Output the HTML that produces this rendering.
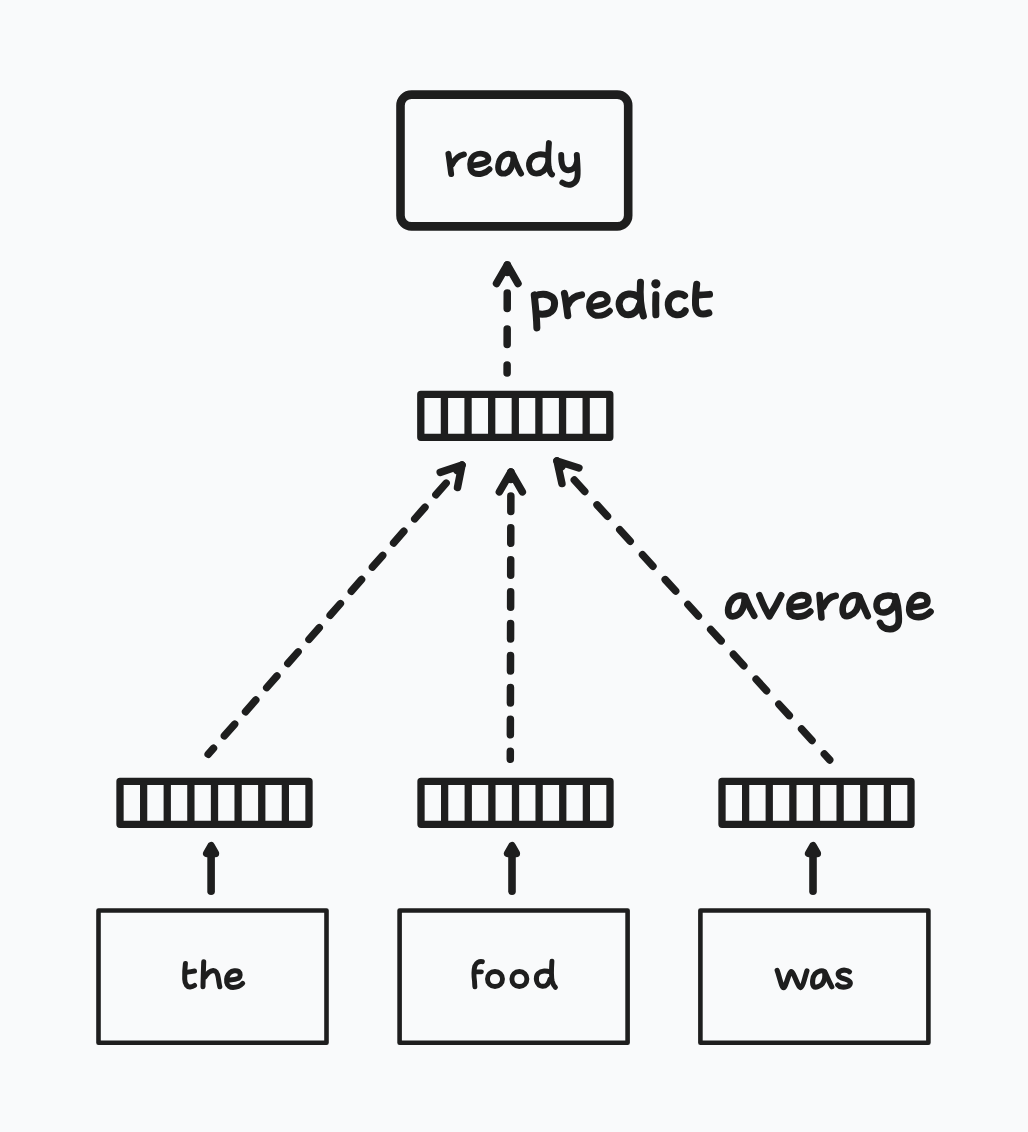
<!DOCTYPE html>
<html><head><meta charset="utf-8"><style>
html,body{margin:0;padding:0;background:#f9fafb;}
body{width:1028px;height:1132px;overflow:hidden;font-family:"Liberation Sans",sans-serif;}
svg{display:block;}
</style></head><body>
<svg width="1028" height="1132" viewBox="0 0 1028 1132">
<rect width="1028" height="1132" fill="#f9fafb"/>
<rect x="400.5" y="94.6" width="227.7" height="131.8" rx="11" ry="11" fill="none" stroke="#1e1e1e" stroke-width="8.6"/>
<rect x="420.8" y="394.3" width="189" height="43" fill="none" stroke="#1e1e1e" stroke-width="7.3" stroke-linejoin="round"/><line x1="444.43" y1="394.3" x2="444.43" y2="437.3" stroke="#1e1e1e" stroke-width="7.3"/><line x1="468.05" y1="394.3" x2="468.05" y2="437.3" stroke="#1e1e1e" stroke-width="7.3"/><line x1="491.68" y1="394.3" x2="491.68" y2="437.3" stroke="#1e1e1e" stroke-width="7.3"/><line x1="515.30" y1="394.3" x2="515.30" y2="437.3" stroke="#1e1e1e" stroke-width="7.3"/><line x1="538.92" y1="394.3" x2="538.92" y2="437.3" stroke="#1e1e1e" stroke-width="7.3"/><line x1="562.55" y1="394.3" x2="562.55" y2="437.3" stroke="#1e1e1e" stroke-width="7.3"/><line x1="586.17" y1="394.3" x2="586.17" y2="437.3" stroke="#1e1e1e" stroke-width="7.3"/>
<rect x="120" y="781.3" width="189" height="43" fill="none" stroke="#1e1e1e" stroke-width="7.3" stroke-linejoin="round"/><line x1="143.62" y1="781.3" x2="143.62" y2="824.3" stroke="#1e1e1e" stroke-width="7.3"/><line x1="167.25" y1="781.3" x2="167.25" y2="824.3" stroke="#1e1e1e" stroke-width="7.3"/><line x1="190.88" y1="781.3" x2="190.88" y2="824.3" stroke="#1e1e1e" stroke-width="7.3"/><line x1="214.50" y1="781.3" x2="214.50" y2="824.3" stroke="#1e1e1e" stroke-width="7.3"/><line x1="238.12" y1="781.3" x2="238.12" y2="824.3" stroke="#1e1e1e" stroke-width="7.3"/><line x1="261.75" y1="781.3" x2="261.75" y2="824.3" stroke="#1e1e1e" stroke-width="7.3"/><line x1="285.38" y1="781.3" x2="285.38" y2="824.3" stroke="#1e1e1e" stroke-width="7.3"/>
<rect x="421" y="781.3" width="189" height="43" fill="none" stroke="#1e1e1e" stroke-width="7.3" stroke-linejoin="round"/><line x1="444.62" y1="781.3" x2="444.62" y2="824.3" stroke="#1e1e1e" stroke-width="7.3"/><line x1="468.25" y1="781.3" x2="468.25" y2="824.3" stroke="#1e1e1e" stroke-width="7.3"/><line x1="491.88" y1="781.3" x2="491.88" y2="824.3" stroke="#1e1e1e" stroke-width="7.3"/><line x1="515.50" y1="781.3" x2="515.50" y2="824.3" stroke="#1e1e1e" stroke-width="7.3"/><line x1="539.12" y1="781.3" x2="539.12" y2="824.3" stroke="#1e1e1e" stroke-width="7.3"/><line x1="562.75" y1="781.3" x2="562.75" y2="824.3" stroke="#1e1e1e" stroke-width="7.3"/><line x1="586.38" y1="781.3" x2="586.38" y2="824.3" stroke="#1e1e1e" stroke-width="7.3"/>
<rect x="722" y="781.3" width="189" height="43" fill="none" stroke="#1e1e1e" stroke-width="7.3" stroke-linejoin="round"/><line x1="745.62" y1="781.3" x2="745.62" y2="824.3" stroke="#1e1e1e" stroke-width="7.3"/><line x1="769.25" y1="781.3" x2="769.25" y2="824.3" stroke="#1e1e1e" stroke-width="7.3"/><line x1="792.88" y1="781.3" x2="792.88" y2="824.3" stroke="#1e1e1e" stroke-width="7.3"/><line x1="816.50" y1="781.3" x2="816.50" y2="824.3" stroke="#1e1e1e" stroke-width="7.3"/><line x1="840.12" y1="781.3" x2="840.12" y2="824.3" stroke="#1e1e1e" stroke-width="7.3"/><line x1="863.75" y1="781.3" x2="863.75" y2="824.3" stroke="#1e1e1e" stroke-width="7.3"/><line x1="887.38" y1="781.3" x2="887.38" y2="824.3" stroke="#1e1e1e" stroke-width="7.3"/>
<rect x="98.5" y="910.5" width="228" height="132.2" fill="none" stroke="#1e1e1e" stroke-width="4.6" stroke-linejoin="round"/>
<rect x="399.6" y="910.5" width="228" height="132.2" fill="none" stroke="#1e1e1e" stroke-width="4.6" stroke-linejoin="round"/>
<rect x="700.4" y="910.5" width="228" height="132.2" fill="none" stroke="#1e1e1e" stroke-width="4.6" stroke-linejoin="round"/>
<line x1="211.1" y1="891.3" x2="211.1" y2="852" stroke="#1e1e1e" stroke-width="7.6" stroke-linecap="round"/>
<path d="M211.1 845.8 L206.79999999999998 853.4 L215.4 853.4 Z" fill="#1e1e1e" stroke="#1e1e1e" stroke-width="7.6" stroke-linejoin="round"/>
<line x1="512" y1="891.3" x2="512" y2="852" stroke="#1e1e1e" stroke-width="7.6" stroke-linecap="round"/>
<path d="M512 845.8 L507.7 853.4 L516.3 853.4 Z" fill="#1e1e1e" stroke="#1e1e1e" stroke-width="7.6" stroke-linejoin="round"/>
<line x1="813" y1="891.3" x2="813" y2="852" stroke="#1e1e1e" stroke-width="7.6" stroke-linecap="round"/>
<path d="M813 845.8 L808.7 853.4 L817.3 853.4 Z" fill="#1e1e1e" stroke="#1e1e1e" stroke-width="7.6" stroke-linejoin="round"/>
<line x1="507.1" y1="373" x2="507.3" y2="264.9" stroke="#1e1e1e" stroke-width="7.5" stroke-linecap="round" stroke-dasharray="15.50 20.53" stroke-dashoffset="7.50"/><path d="M496.52 283.50 L507.3 264.9 L518.02 283.54" fill="none" stroke="#1e1e1e" stroke-width="7.5" stroke-linecap="round" stroke-linejoin="round"/>
<line x1="510.3" y1="759.25" x2="510.9" y2="472" stroke="#1e1e1e" stroke-width="7.5" stroke-linecap="round" stroke-dasharray="15.50 16.42" stroke-dashoffset="7.50"/><path d="M499.36 491.89 L510.9 472 L522.36 491.94" fill="none" stroke="#1e1e1e" stroke-width="7.5" stroke-linecap="round" stroke-linejoin="round"/>
<line x1="208.2" y1="754.3" x2="462" y2="465" stroke="#1e1e1e" stroke-width="7.5" stroke-linecap="round" stroke-dasharray="15.50 16.57" stroke-dashoffset="7.50"/><path d="M440.22 472.39 L462 465 L457.51 487.56" fill="none" stroke="#1e1e1e" stroke-width="7.5" stroke-linecap="round" stroke-linejoin="round"/>
<line x1="829.7" y1="759.9" x2="557" y2="461" stroke="#1e1e1e" stroke-width="7.5" stroke-linecap="round" stroke-dasharray="15.50 18.22" stroke-dashoffset="7.50"/><path d="M561.93 483.47 L557 461 L578.92 467.96" fill="none" stroke="#1e1e1e" stroke-width="7.5" stroke-linecap="round" stroke-linejoin="round"/>
<circle cx="655.86" cy="283.87" r="4.6" fill="#1e1e1e"/>
<g transform="translate(435 130) scale(0.155642)" fill="none" stroke="#1e1e1e" stroke-width="37.91" stroke-linecap="round" stroke-linejoin="round"><path d="M 86 153 C 92 190, 98 240, 104 283"/><path d="M 110 222 C 125 190, 150 165, 186 157"/><path d="M 256 226 C 290 222, 318 214, 334 204 C 350 190, 345 160, 305 153 C 270 148, 240 165, 230 195 C 220 230, 228 265, 250 276 C 280 290, 325 280, 350 252"/><path d="M 496 160 C 465 140, 420 165, 410 210 C 398 255, 410 285, 450 280 C 485 272, 505 220, 505 168"/><path d="M 500 158 C 515 200, 530 245, 553 280"/><path d="M 722 165 C 690 150, 640 150, 615 185 C 590 225, 610 280, 652 280 C 690 280, 715 250, 726 215"/><path d="M 732 84 C 728 135, 724 190, 730 235 C 735 265, 742 280, 752 286"/><path d="M 811 161 C 810 205, 815 250, 848 258 C 880 262, 905 240, 910 210"/><path d="M 911 161 C 915 215, 920 270, 915 300 C 908 348, 862 368, 818 338"/></g>
<g transform="translate(525 272) scale(0.097276)" fill="none" stroke="#1e1e1e" stroke-width="71.96" stroke-linecap="round" stroke-linejoin="round"><path d="M 95 235 C 105 330, 120 460, 122 575"/><path d="M 108 248 C 150 222, 230 218, 282 262 C 322 305, 305 395, 250 420 C 210 435, 160 435, 130 428"/><path d="M 405 220 C 420 280, 430 380, 440 450"/><path d="M 445 330 C 470 275, 515 245, 582 235"/><path d="M 705 355 C 760 348, 815 333, 840 312 C 866 272, 830 226, 777 226 C 715 228, 670 275, 662 330 C 652 395, 690 450, 755 450 C 800 450, 845 425, 871 400" stroke-width="63.74"/></g>
<g transform="translate(615 272) scale(0.097276)" fill="none" stroke="#1e1e1e" stroke-width="71.96" stroke-linecap="round" stroke-linejoin="round"><path d="M 232 250 C 180 212, 95 215, 55 278 C 25 335, 55 440, 135 440 C 200 438, 240 385, 252 335"/><path d="M 262 105 C 256 200, 256 340, 292 452"/><path d="M 420 122 L 421 123"/><path d="M 420 235 C 418 300, 418 380, 420 440"/><path d="M 715 242 C 680 212, 610 215, 570 262 C 528 320, 545 432, 630 440 C 680 445, 712 420, 722 398"/><path d="M 840 125 C 832 190, 826 280, 828 340 C 835 430, 890 448, 965 420"/><path d="M 838 240 C 880 236, 930 232, 972 230"/></g>
<g transform="translate(720 580) scale(0.107009)" fill="none" stroke="#1e1e1e" stroke-width="61.68" stroke-linecap="round" stroke-linejoin="round"><path d="M 230 156 C 215 140, 160 135, 115 180 C 75 225, 65 300, 88 328 C 110 350, 165 340, 195 298 C 220 262, 232 200, 230 158"/><path d="M 234 156 C 250 195, 275 260, 320 335"/><path d="M 368 142 C 395 210, 430 290, 462 340 C 500 280, 545 200, 572 142"/><path d="M 690 253 C 730 250, 780 242, 805 230 C 835 210, 835 160, 800 147 C 760 135, 720 145, 695 162 C 660 185, 645 230, 648 270 C 650 320, 680 340, 720 342 C 770 345, 815 325, 844 294"/><path d="M 930 140 C 935 200, 942 280, 948 350"/></g>
<g transform="translate(825 580) scale(0.107009)" fill="none" stroke="#1e1e1e" stroke-width="61.68" stroke-linecap="round" stroke-linejoin="round"><path d="M -15 250 C 10 190, 50 155, 100 148"/><path d="M 318 155 C 300 135, 240 135, 200 180 C 160 225, 155 300, 180 330 C 205 350, 260 330, 290 285 C 312 250, 322 200, 318 158"/><path d="M 322 158 C 340 200, 365 260, 400 338"/><path d="M 652 165 C 630 140, 560 135, 515 165 C 475 195, 470 260, 505 292 C 535 315, 600 305, 635 255 C 650 232, 658 210, 658 195"/><path d="M 658 153 C 675 200, 688 280, 690 360 C 692 420, 670 455, 610 460 C 565 462, 530 440, 514 400"/><path d="M 832 253 C 870 250, 915 243, 940 232 C 965 215, 965 165, 925 148 C 880 130, 840 150, 815 180 C 785 220, 778 290, 800 320 C 825 350, 880 352, 920 340 C 950 330, 970 315, 986 297"/></g>
<g transform="translate(170 945) scale(0.087566)" fill="none" stroke="#1e1e1e" stroke-width="57.10" stroke-linecap="round" stroke-linejoin="round"><path d="M 176 211 C 170 260, 166 330, 168 390 C 170 450, 200 482, 230 480 C 250 478, 268 470, 280 462"/><path d="M 200 310 C 225 306, 255 302, 280 298"/><path d="M 385 191 C 382 280, 378 400, 377 477"/><path d="M 400 365 C 420 330, 450 295, 495 290 C 530 290, 545 330, 552 380 C 558 420, 563 455, 569 477"/><path d="M 684 400 C 720 397, 760 390, 785 380 C 805 365, 808 320, 785 302 C 760 288, 710 292, 684 315 C 655 340, 642 390, 648 430 C 655 470, 690 485, 720 485 C 770 485, 805 465, 830 438"/></g>
<g transform="translate(460 945) scale(0.107009)" fill="none" stroke="#1e1e1e" stroke-width="45.79" stroke-linecap="round" stroke-linejoin="round"><path d="M 209 156 C 180 150, 150 165, 138 200 C 128 240, 130 300, 136 340 C 137 365, 138 380, 139 391"/><path d="M 142 251 C 160 251, 180 251, 200 251"/><path d="M 327 248 C 285 248, 257 280, 257 318 C 257 358, 285 388, 327 388 C 368 388, 397 358, 397 318 C 397 280, 368 248, 327 248 Z"/><path d="M 555 248 C 513 248, 485 280, 485 318 C 485 358, 513 388, 555 388 C 596 388, 625 358, 625 318 C 625 280, 596 248, 555 248 Z"/><path d="M 837 252 C 815 240, 760 235, 730 265 C 700 300, 710 380, 770 386 C 805 388, 830 360, 840 320"/><path d="M 859 152 C 855 210, 850 290, 862 340 C 870 370, 880 385, 892 396"/></g>
<g transform="translate(765 945) scale(0.097276)" fill="none" stroke="#1e1e1e" stroke-width="52.43" stroke-linecap="round" stroke-linejoin="round"><path d="M 125 262 C 150 330, 170 440, 192 438 C 215 436, 245 275, 270 273 C 295 272, 340 440, 364 438 C 390 436, 418 300, 431 266"/><path d="M 608 272 C 590 258, 545 262, 515 298 C 488 330, 480 400, 500 425 C 520 445, 570 425, 592 395 C 612 365, 618 310, 612 276"/><path d="M 617 280 C 630 310, 655 370, 687 430"/><path d="M 869 276 C 850 258, 800 250, 770 270 C 740 290, 750 325, 790 340 C 830 352, 880 365, 877 395 C 872 430, 820 435, 790 432 C 770 430, 755 420, 747 410"/></g>
</svg>
</body></html>
